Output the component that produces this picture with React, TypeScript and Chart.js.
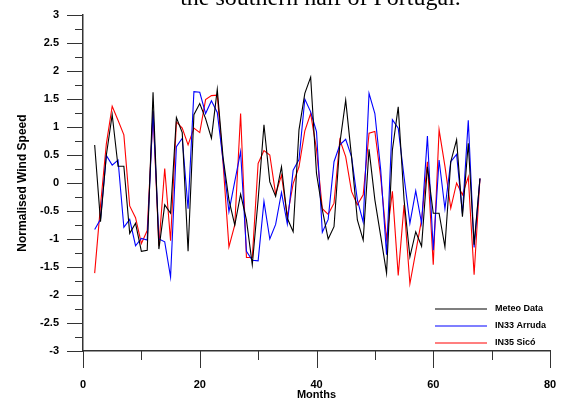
import React, { useEffect, useRef } from "react";
import { Chart, registerables } from "chart.js";

Chart.register(...registerables);

const TITLE = "the southern half of Portugal.";
const X_TITLE = "Months";
const Y_TITLE = "Normalised Wind Speed";

const months = [
  2, 3, 4, 5, 6, 7, 8, 9, 10, 11, 12, 13, 14, 15, 16, 17, 18, 19, 20, 21, 22, 23,
  24, 25, 26, 27, 28, 29, 30, 31, 32, 33, 34, 35, 36, 37, 38, 39, 40, 41, 42, 43,
  44, 45, 46, 47, 48, 49, 50, 51, 52, 53, 54, 55, 56, 57, 58, 59, 60, 61, 62, 63,
  64, 65, 66, 67, 68,
];

const meteoData = [
  0.68, -0.69, 0.5, 1.22, 0.3, 0.3, -0.9, -0.72, -1.22, -1.2, 1.62, -1.18, -0.39,
  -0.54, 1.17, 0.9, -1.22, 1.22, 1.42, 1.15, 0.8, 1.67, 0.45, -0.3, -0.75, -0.2,
  -0.66, -1.46, -0.3, 1.04, 0.02, -0.24, 0.29, -0.63, -0.87, 0.95, 1.6, 1.89, 0.17,
  -0.48, -1.0, -0.78, 0.71, 1.48, 0.47, -0.66, -1.02, 0.6, -0.3, -0.95, -1.61, 0.59,
  1.36, -0.3, -1.32, -0.87, -1.13, 0.29, -0.54, -0.54, -1.14, 0.38, 0.77, -0.6,
  0.71, -1.1, 0.08,
];

const in33Arruda = [
  -0.83, -0.65, 0.49, 0.32, 0.41, -0.79, -0.65, -1.12, -0.99, -1.02, 1.29, -1.0,
  -1.05, -1.68, 0.65, 0.8, -0.46, 1.63, 1.62, 1.24, 1.47, 1.26, 0.4, -0.51, 0.03,
  0.56, -1.22, -1.38, -1.39, -0.33, -1.0, -0.74, -0.17, -0.73, 0.23, 0.42, 1.5,
  1.27, 0.92, -0.88, -0.65, 0.38, 0.68, 0.78, 0.47, -0.3, -0.7, 1.6, 1.24, 0.23,
  -1.28, 1.13, 0.98, 0.11, -0.72, -0.14, -0.72, 0.84, -1.2, 0.41, -0.46, 0.38,
  0.51, -0.55, 1.12, -1.15, 0.08,
];

const in35Sico = [
  -1.61, -0.4, 0.7, 1.37, 1.12, 0.86, -0.41, -0.62, -1.08, -0.85, 1.27, -1.12,
  0.26, -1.03, 1.09, 0.98, 0.68, 0.98, 0.9, 1.49, 1.56, 1.57, 0.35, -1.14, -0.75,
  1.24, -1.33, -1.33, 0.35, 0.58, 0.5, -0.2, 0.14, -0.6, -0.01, 0.29, 0.93, 1.24,
  0.6, -0.46, -0.56, -0.36, 0.77, 0.47, -0.15, -0.39, -0.21, 0.89, 0.92, 0.1, -1.0,
  -0.15, -1.65, -0.39, -1.8, -1.23, -0.66, 0.38, -1.46, 0.95, 0.3, -0.45, 0.0,
  -0.21, 0.11, -1.64, 0.08,
];

const seriesLabels = ["Meteo Data", "IN33 Arruda", "IN35 Sicó"];
const seriesValues = [meteoData, in33Arruda, in35Sico];
const seriesColors = ["#000000", "#0000ff", "#ff0000"];

const X_MIN = 0;
const X_MAX = 80;
const X_MAJOR = 20;
const X_MINOR = 10;
const Y_MIN = -3;
const Y_MAX = 3;
const Y_MAJOR = 0.5;
const Y_MINOR = 0.25;

const SANS = '"Liberation Sans", Arial, sans-serif';
const SERIF = '"Liberation Serif", "Times New Roman", serif';

const decorPlugin = {
  id: "decor",
  afterDraw(chart: any) {
    const { ctx, chartArea } = chart;
    const xs = chart.scales.x;
    const ys = chart.scales.y;
    ctx.save();
    ctx.strokeStyle = "#333333";
    ctx.lineWidth = 1;
    // x ticks (major + minor)
    const nx = Math.round((X_MAX - X_MIN) / X_MINOR);
    for (let i = 0; i <= nx; i++) {
      const v = X_MIN + i * X_MINOR;
      const px = Math.round(xs.getPixelForValue(v)) + 0.5;
      const len = i % Math.round(X_MAJOR / X_MINOR) === 0 ? 17 : 9;
      ctx.beginPath();
      ctx.moveTo(px, chartArea.bottom);
      ctx.lineTo(px, chartArea.bottom + len);
      ctx.stroke();
    }
    // y ticks
    const ny = Math.round((Y_MAX - Y_MIN) / Y_MINOR);
    for (let i = 0; i <= ny; i++) {
      const v = Y_MIN + i * Y_MINOR;
      const py = Math.round(ys.getPixelForValue(v)) + 0.5;
      const len = i % Math.round(Y_MAJOR / Y_MINOR) === 0 ? 16 : 8;
      ctx.beginPath();
      ctx.moveTo(chartArea.left - len, py);
      ctx.lineTo(chartArea.left, py);
      ctx.stroke();
    }
    // legend
    const rowH = 17;
    const legTop = chartArea.bottom - 42;
    const lineX0 = chartArea.right - 115;
    const lineX1 = lineX0 + 52;
    ctx.font = `bold 9px ${SANS}`;
    ctx.textBaseline = "middle";
    ctx.textAlign = "left";
    seriesLabels.forEach((lab, i) => {
      const yy = Math.round(legTop + i * rowH);
      ctx.strokeStyle = seriesColors[i];
      ctx.lineWidth = 1.2;
      ctx.beginPath();
      ctx.moveTo(lineX0, yy);
      ctx.lineTo(lineX1, yy);
      ctx.stroke();
      ctx.fillStyle = "#000";
      ctx.fillText(lab, lineX1 + 8, yy);
    });
    // title (cut off at the top)
    ctx.font = `24px ${SERIF}`;
    ctx.textAlign = "center";
    ctx.textBaseline = "alphabetic";
    ctx.fillStyle = "#000";
    ctx.fillText(TITLE, (chartArea.left + chartArea.right) / 2 + 4, 5);
    ctx.restore();
  },
};

export default function App() {
  const ref = useRef<HTMLCanvasElement | null>(null);

  useEffect(() => {
    if (!ref.current) return;
    const datasets = seriesLabels.map((label, i) => ({
      label,
      data: months.map((m, j) => ({ x: m, y: seriesValues[i][j] })),
      borderColor: seriesColors[i],
      backgroundColor: seriesColors[i],
      borderWidth: 1.1,
      pointRadius: 0,
      tension: 0,
      fill: false,
    }));
    const chart = new Chart(ref.current, {
      type: "line",
      data: { datasets },
      plugins: [decorPlugin],
      options: {
        animation: false,
        responsive: false,
        maintainAspectRatio: false,
        devicePixelRatio: 1,
        layout: {
          autoPadding: false,
          padding: { left: 0, top: 15, right: 11, bottom: 0 },
        },
        plugins: {
          legend: { display: false },
          title: { display: false },
          tooltip: { enabled: false },
        },
        scales: {
          x: {
            type: "linear",
            min: X_MIN,
            max: X_MAX,
            afterFit: (s: any) => {
              s.height = 48;
              s.paddingLeft = 0;
              s.paddingRight = 0;
              s.paddingTop = 0;
              s.paddingBottom = 0;
            },
            ticks: {
              stepSize: X_MAJOR,
              padding: 27,
              color: "#000",
              font: { family: SANS, size: 11, weight: "bold" },
              callback: (v: any) => String(v),
            },
            grid: { display: true, drawOnChartArea: false, drawTicks: false },
            border: { display: true, color: "#333333", width: 1.5 },
            title: {
              display: true,
              text: X_TITLE,
              color: "#000",
              font: { family: SANS, size: 11, weight: "bold" },
              padding: { top: 0, bottom: -3 },
            },
          },
          y: {
            type: "linear",
            min: Y_MIN,
            max: Y_MAX,
            afterFit: (s: any) => {
              s.width = 83;
              s.paddingLeft = 0;
              s.paddingRight = 0;
              s.paddingTop = 0;
              s.paddingBottom = 0;
            },
            ticks: {
              stepSize: Y_MAJOR,
              padding: 24,
              color: "#000",
              font: { family: SANS, size: 11, weight: "bold" },
              callback: (v: any) => String(v),
            },
            grid: { display: true, drawOnChartArea: false, drawTicks: false },
            border: { display: true, color: "#333333", width: 1.5 },
            title: {
              display: true,
              text: Y_TITLE,
              color: "#000",
              font: { family: SANS, size: 12, weight: "bold" },
              padding: { top: 15, bottom: 0 },
            },
          },
        },
      } as any,
    });
    return () => chart.destroy();
  }, []);

  return (
    <div
      style={{
        position: "fixed",
        left: 0,
        top: 0,
        width: 561,
        height: 399,
        background: "#ffffff",
      }}
    >
      <canvas ref={ref} width={561} height={399} style={{ display: "block" }} />
    </div>
  );
}
